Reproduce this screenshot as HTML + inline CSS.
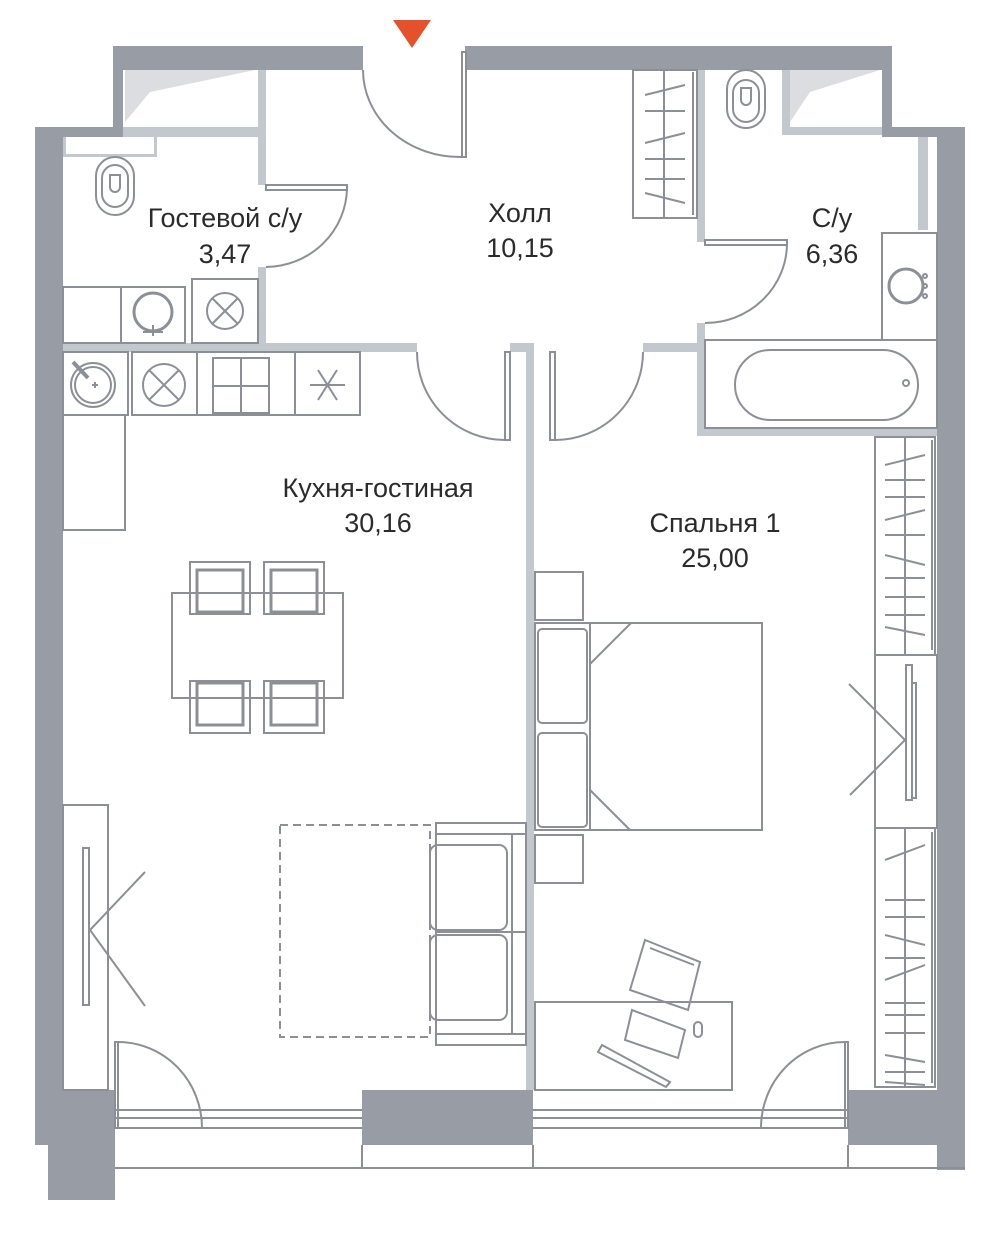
<!DOCTYPE html>
<html><head><meta charset="utf-8"><style>
html,body{margin:0;padding:0;background:#fff}
svg{display:block}
text{font-family:"Liberation Sans",sans-serif;font-size:27px;fill:#2b2b2b;text-anchor:middle}
</style></head><body>
<svg width="1000" height="1238" viewBox="0 0 1000 1238" xmlns="http://www.w3.org/2000/svg">
<g fill="#989da5">
<rect x="113" y="46" width="250" height="24"/>
<rect x="465" y="46" width="427" height="24"/>
<rect x="113" y="46" width="10" height="91"/>
<rect x="35" y="127" width="88" height="10"/>
<rect x="35" y="127" width="28" height="1018"/>
<rect x="882" y="46" width="10" height="91"/>
<rect x="882" y="127" width="83" height="10"/>
<rect x="937" y="127" width="28" height="1043"/>
<rect x="48" y="1090" width="67" height="110"/>
<rect x="362" y="1090" width="171" height="55"/>
<rect x="848" y="1090" width="117" height="55"/>
</g>
<polygon points="393,20 431,20 412,48" fill="#e4512b"/>
<g fill="#c3c8ce">
<rect x="123" y="127" width="135" height="10"/>
<rect x="258" y="70" width="8" height="115"/>
<rect x="258" y="267" width="8" height="80"/>
<rect x="63" y="343" width="354" height="9"/>
<rect x="510" y="343" width="20" height="9"/>
<rect x="526" y="343" width="8" height="747"/>
<rect x="643" y="343" width="62" height="9"/>
<rect x="697" y="70" width="8" height="172"/>
<rect x="697" y="323" width="8" height="113"/>
<rect x="697" y="428" width="240" height="8"/>
<rect x="782" y="70" width="8" height="65"/>
<rect x="782" y="127" width="100" height="8"/>
<rect x="918" y="137" width="10" height="93"/>
<rect x="63" y="137" width="94" height="20"/>
</g>
<rect x="66" y="137" width="88" height="17" fill="#fff"/>
<polygon points="125,70 255,70 150,92 125,122" fill="#dcdde0"/>
<polygon points="790,70 880,70 810,92 790,122" fill="#dcdde0"/>
<g fill="none" stroke="#8c9096" stroke-width="2">
<path d="M363,70 A97,87 0 0 0 462,157"/>
<rect x="462" y="52" width="4" height="105"/>
<rect x="266" y="185" width="81" height="5"/>
<path d="M347,188 A82,80 0 0 1 266,267"/>
<path d="M417,352 A88,88 0 0 0 505,440"/>
<rect x="505" y="352" width="5" height="88"/>
<rect x="550" y="352" width="5" height="88"/>
<path d="M555,440 A88,88 0 0 0 643,352"/>
<rect x="705" y="240" width="82" height="5"/>
<path d="M787,243 A82,80 0 0 1 705,323"/>
<rect x="115" y="1042" width="3" height="86"/>
<path d="M118,1042 A84,86 0 0 1 202,1128"/>
<rect x="845" y="1042" width="3" height="86"/>
<path d="M845,1042 A84,86 0 0 0 761,1128"/>
<line x1="115" y1="1110" x2="362" y2="1110"/><line x1="115" y1="1118" x2="362" y2="1118"/><line x1="115" y1="1128" x2="362" y2="1128"/>
<line x1="533" y1="1110" x2="848" y2="1110"/><line x1="533" y1="1118" x2="848" y2="1118"/><line x1="533" y1="1128" x2="848" y2="1128"/>
<line x1="115" y1="1168" x2="965" y2="1168"/>
<line x1="362" y1="1145" x2="362" y2="1168"/><line x1="533" y1="1145" x2="533" y2="1168"/><line x1="848" y1="1145" x2="848" y2="1168"/>
<rect x="63" y="805" width="45" height="285"/>
<rect x="83" y="848" width="6" height="157"/>
<polyline points="145,872 90,930 145,1006"/>
<rect x="875" y="655" width="62" height="173"/>
<rect x="906" y="665" width="6" height="135"/>
<rect x="912" y="683" width="4" height="115"/>
<polyline points="849,684 905,740 850,795"/>
<rect x="96" y="157" width="38" height="58" rx="19"/>
<rect x="102" y="165" width="26" height="42" rx="13"/>
<path d="M110,175 h10 v12 a5,5 0 0 1 -10,0 z"/>
<rect x="727" y="70" width="38" height="58" rx="19"/>
<rect x="733" y="80" width="26" height="42" rx="13"/>
<path d="M741,88 h10 v12 a5,5 0 0 1 -10,0 z"/>
<rect x="63" y="287" width="58" height="56"/>
<rect x="121" y="287" width="64" height="56"/>
<circle cx="153" cy="312" r="19" stroke-width="3"/>
<line x1="153" y1="325" x2="153" y2="336"/><line x1="143" y1="332" x2="163" y2="332"/>
<rect x="192" y="279" width="66" height="64"/>
<circle cx="225" cy="311" r="18"/>
<line x1="212" y1="298" x2="238" y2="324"/><line x1="238" y1="298" x2="212" y2="324"/>
<rect x="63" y="352" width="65" height="63"/>
<circle cx="93" cy="385" r="22"/><circle cx="93" cy="385" r="18"/>
<line x1="73" y1="362" x2="88" y2="378" stroke-width="4"/>
<line x1="92" y1="385" x2="98" y2="385"/><line x1="95" y1="382" x2="95" y2="388"/>
<rect x="132" y="352" width="65" height="63"/>
<circle cx="164" cy="385" r="21"/>
<line x1="149" y1="370" x2="179" y2="400"/><line x1="179" y1="370" x2="149" y2="400"/>
<rect x="197" y="352" width="98" height="63"/>
<rect x="213" y="358" width="56" height="55"/>
<line x1="241" y1="358" x2="241" y2="413"/><line x1="213" y1="386" x2="269" y2="386"/>
<rect x="295" y="352" width="65" height="63"/>
<line x1="310" y1="385" x2="345" y2="385"/><line x1="318" y1="370" x2="337" y2="400"/><line x1="337" y1="370" x2="318" y2="400"/>
<rect x="63" y="415" width="62" height="115"/>
<rect x="633" y="70" width="64" height="148"/>
<line x1="664" y1="70" x2="664" y2="218"/><line x1="693" y1="72" x2="693" y2="215"/>
<line x1="645" y1="95" x2="685" y2="85"/><line x1="645" y1="111" x2="685" y2="111"/><line x1="645" y1="143" x2="685" y2="133"/>
<line x1="645" y1="159" x2="685" y2="159"/><line x1="645" y1="179" x2="685" y2="179"/><line x1="645" y1="193" x2="685" y2="203"/>
<rect x="882" y="233" width="55" height="107"/>
<circle cx="906" cy="286" r="17" stroke-width="3"/>
<circle cx="925" cy="286" r="2"/><circle cx="925" cy="276" r="2"/><circle cx="925" cy="296" r="2"/>
<rect x="705" y="340" width="232" height="88"/>
<rect x="735" y="350" width="183" height="70" rx="35"/>
<circle cx="906" cy="383" r="3"/>
<rect x="875" y="437" width="60" height="218"/>
<line x1="905" y1="437" x2="905" y2="655"/><line x1="932" y1="440" x2="932" y2="650"/>
<rect x="875" y="828" width="60" height="259"/>
<line x1="905" y1="828" x2="905" y2="1087"/><line x1="932" y1="832" x2="932" y2="1083"/>
</g>
<g stroke="#8c9096" stroke-width="2">
<line x1="885" y1="465" x2="925" y2="455"/><line x1="885" y1="480" x2="925" y2="480"/><line x1="885" y1="497" x2="925" y2="497"/>
<line x1="885" y1="520" x2="925" y2="510"/><line x1="885" y1="535" x2="925" y2="535"/><line x1="885" y1="555" x2="925" y2="565"/>
<line x1="885" y1="578" x2="925" y2="578"/><line x1="885" y1="597" x2="925" y2="597"/><line x1="885" y1="615" x2="925" y2="615"/><line x1="885" y1="627" x2="925" y2="635"/>
<line x1="885" y1="860" x2="925" y2="845"/><line x1="885" y1="900" x2="925" y2="900"/><line x1="885" y1="917" x2="925" y2="917"/>
<line x1="885" y1="935" x2="925" y2="945"/><line x1="885" y1="958" x2="925" y2="958"/><line x1="885" y1="980" x2="925" y2="965"/>
<line x1="885" y1="1003" x2="925" y2="1003"/><line x1="885" y1="1015" x2="925" y2="1015"/><line x1="885" y1="1033" x2="925" y2="1033"/>
<line x1="885" y1="1055" x2="925" y2="1062"/><line x1="885" y1="1072" x2="925" y2="1072"/><line x1="885" y1="1082" x2="925" y2="1085"/>
</g>
<g fill="none" stroke="#8c9096" stroke-width="2">
<rect x="172" y="593" width="171" height="105"/>
<rect x="190" y="562" width="60" height="52"/><rect x="197" y="570" width="46" height="42" stroke-width="3"/>
<rect x="264" y="562" width="60" height="52"/><rect x="271" y="570" width="46" height="42" stroke-width="3"/>
<rect x="190" y="681" width="60" height="52"/><rect x="197" y="683" width="46" height="42" stroke-width="3"/>
<rect x="264" y="681" width="60" height="52"/><rect x="271" y="683" width="46" height="42" stroke-width="3"/>
<rect x="280" y="825" width="150" height="212" stroke-dasharray="8,5"/>
<rect x="436" y="823" width="90" height="222"/>
<line x1="436" y1="834" x2="526" y2="834"/><line x1="436" y1="1034" x2="526" y2="1034"/>
<rect x="430" y="845" width="77" height="85" rx="8"/>
<rect x="430" y="935" width="77" height="85" rx="8"/>
<line x1="512" y1="834" x2="512" y2="1034"/><line x1="436" y1="932" x2="526" y2="932"/>
<rect x="535" y="572" width="48" height="48"/>
<rect x="535" y="835" width="48" height="48"/>
<rect x="535" y="623" width="227" height="207"/>
<line x1="590" y1="623" x2="590" y2="830"/>
<rect x="538" y="629" width="49" height="94" rx="4"/>
<rect x="538" y="733" width="49" height="94" rx="4"/>
<line x1="590" y1="664" x2="631" y2="623"/><line x1="590" y1="790" x2="630" y2="830"/>
<rect x="535" y="1002" width="197" height="88"/>
<path d="M645,940 L700,962 L688,1010 L630,990 Z"/>
<path d="M650,948 L694,965"/>
<path d="M625,1040 L632,1010 L685,1030 L678,1058 Z"/>
<path d="M602,1045 L670,1082 L666,1087 L598,1052 Z"/>
<rect x="694" y="1022" width="8" height="15" rx="4"/>
</g>
<text x="225" y="227">Гостевой с/у</text>
<text x="225" y="263">3,47</text>
<text x="520" y="222">Холл</text>
<text x="520" y="257">10,15</text>
<text x="832" y="227">С/у</text>
<text x="832" y="263">6,36</text>
<text x="378" y="497">Кухня-гостиная</text>
<text x="378" y="532">30,16</text>
<text x="715" y="532">Спальня 1</text>
<text x="715" y="567">25,00</text>
</svg>
</body></html>
